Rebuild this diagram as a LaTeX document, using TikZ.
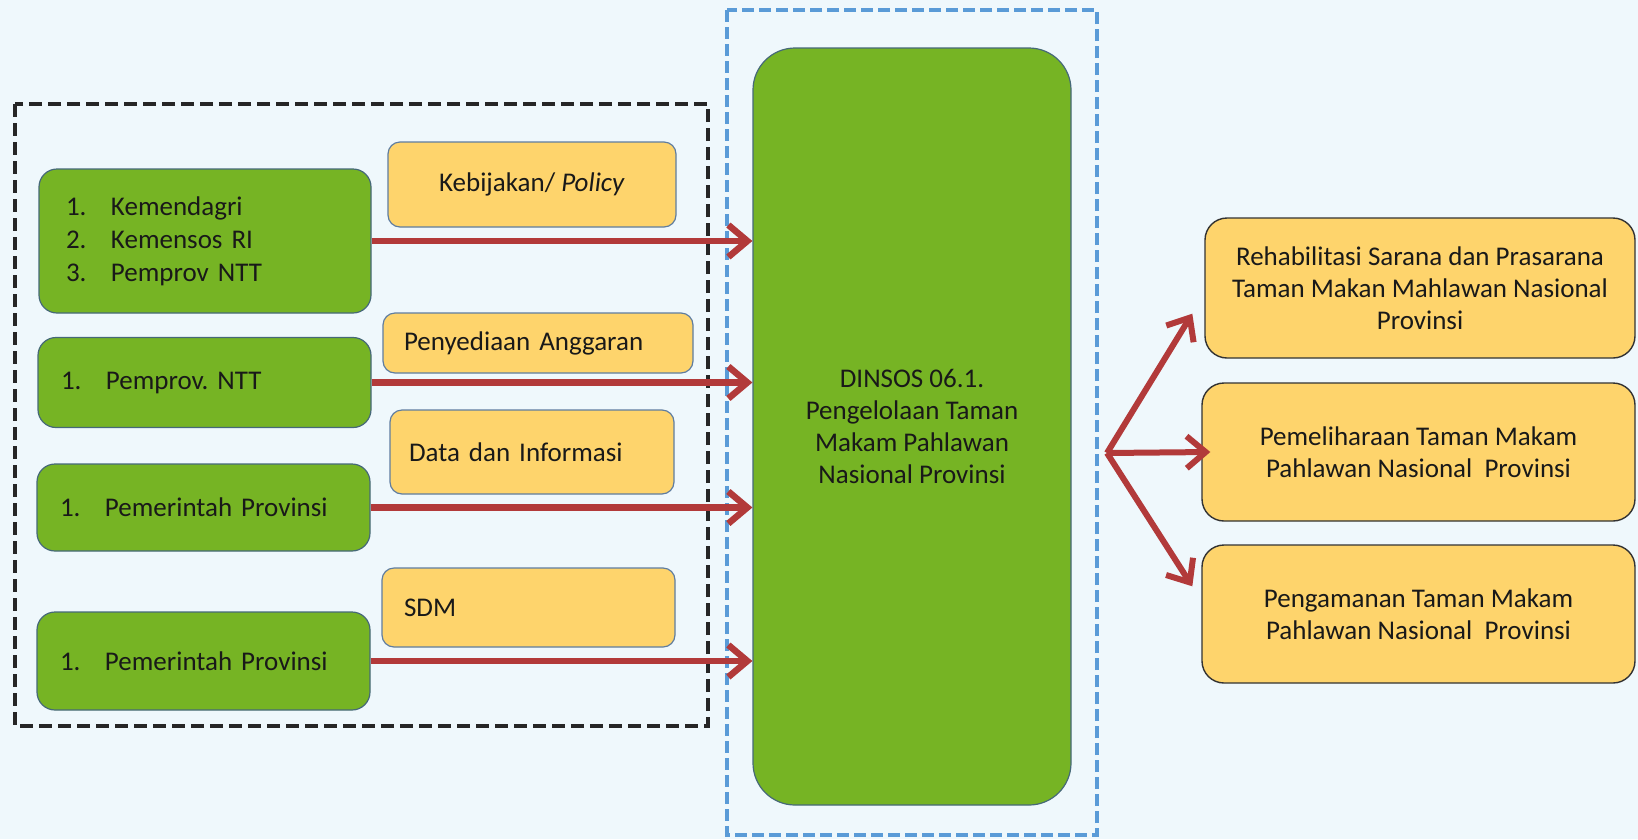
\documentclass[tikz,border=0pt]{standalone}
\usepackage{fontspec}
\setmainfont{Carlito}
\usetikzlibrary{arrows.meta}
\definecolor{bg}{RGB}{239,248,252}
\definecolor{mygreen}{RGB}{118,180,36}
\definecolor{gborder}{RGB}{70,105,120}
\definecolor{myyellow}{RGB}{254,212,108}
\definecolor{yborder}{RGB}{95,125,160}
\definecolor{arrred}{RGB}{178,58,58}
\definecolor{dashblue}{RGB}{90,155,215}
\definecolor{txt}{RGB}{25,25,25}
\frenchspacing
\begin{document}
\begin{tikzpicture}[x=1pt,y=-1pt,
  greenbox/.style={draw=gborder, fill=mygreen, line width=1.2pt, rounded corners=18pt,
    inner xsep=23pt, inner ysep=0pt, text width=287pt, align=left,
    font=\fontsize{27}{33}\selectfont, text=txt},
  ybox/.style={draw=yborder, fill=myyellow, line width=1.2pt, rounded corners=12pt,
    inner ysep=0pt, font=\fontsize{27}{33}\selectfont, text=txt},
  rbox/.style={draw=black!80, fill=myyellow, line width=1.4pt, rounded corners=22pt,
    minimum width=433pt, minimum height=138pt, align=center,
    font=\fontsize{27}{32}\selectfont, text=txt},
  bigbox/.style={draw=gborder, fill=mygreen, line width=1.2pt, rounded corners=42pt,
    minimum width=318pt, minimum height=757pt, align=center,
    font=\fontsize{27}{32}\selectfont, text=txt},
  arr/.style={draw=arrred, line width=6.5pt, -{Straight Barb[length=19pt,width=32pt]}},
  blackframe/.style={draw=black!85, line width=3.5pt, dash pattern=on 13pt off 6pt},
  blueframe/.style={draw=dashblue, line width=3.5pt, dash pattern=on 12pt off 5pt},
]
\useasboundingbox (0,0) rectangle (1638,839);
\fill[bg] (0,0) rectangle (1638,839);

% frames
\draw[blackframe] (15,104) rectangle (708,726);
\draw[blueframe] (727,10) rectangle (1097,835);

% big central box
\node[bigbox] (big) at (912,426.5) {DINSOS 06.1.\\Pengelolaan Taman\\Makam Pahlawan\\Nasional Provinsi};

% left green boxes
\node[greenbox, inner xsep=27pt, text width=278pt, minimum height=144pt] (g1) at (205,241)
  {\makebox[45pt][l]{1.}Kemendagri\\\makebox[45pt][l]{2.}Kemensos RI\\\makebox[45pt][l]{3.}Pemprov NTT};
\node[greenbox, minimum height=90pt] (g2) at (204.5,382.5) {\makebox[45pt][l]{1.}Pemprov. NTT};
\node[greenbox, minimum height=87pt] (g3) at (203.5,507.5) {\makebox[45pt][l]{1.}Pemerintah Provinsi};
\node[greenbox, minimum height=98pt] (g4) at (203.5,661) {\makebox[45pt][l]{1.}Pemerintah Provinsi};

% yellow label boxes
\node[ybox, minimum width=288pt, minimum height=85pt] (y1) at (532,184.5) {Kebijakan/ \textit{Policy}};
\node[ybox, inner xsep=21pt, text width=268pt, align=left, minimum height=60pt] (y2) at (538,343) {Penyediaan Anggaran};
\node[ybox, inner xsep=19pt, text width=246pt, align=left, minimum height=84pt] (y3) at (532,452) {Data dan Informasi};
\node[ybox, inner xsep=22pt, text width=249pt, align=left, minimum height=79pt] (y4) at (528.5,607.5) {SDM};

% right boxes
\node[rbox, minimum width=430pt, minimum height=140pt] (r1) at (1420,288)
  {Rehabilitasi Sarana dan Prasarana\\Taman Makan Mahlawan Nasional\\Provinsi};
\node[rbox] (r2) at (1418.5,452) {Pemeliharaan Taman Makam\\Pahlawan Nasional~ Provinsi};
\node[rbox] (r3) at (1418.5,614) {Pengamanan Taman Makam\\Pahlawan Nasional~ Provinsi};

% arrows into the central box
\draw[arr] (g1.east) -- (g1.east -| big.west);
\draw[arr] (g2.east) -- (g2.east -| big.west);
\draw[arr] (g3.east) -- (g3.east -| big.west);
\draw[arr] (g4.east) -- (g4.east -| big.west);

% fork arrows to right boxes
\coordinate (fork) at (1107,453);
\draw[arr, line width=6pt] (fork) -- ([xshift=-12pt,yshift=45pt]r1.south west);
\draw[arr, line width=6pt] (fork) -- ([xshift=9pt]r2.west);
\draw[arr, line width=6pt] (fork) -- ([xshift=-9pt,yshift=-42pt]r3.north west);
\end{tikzpicture}
\end{document}
